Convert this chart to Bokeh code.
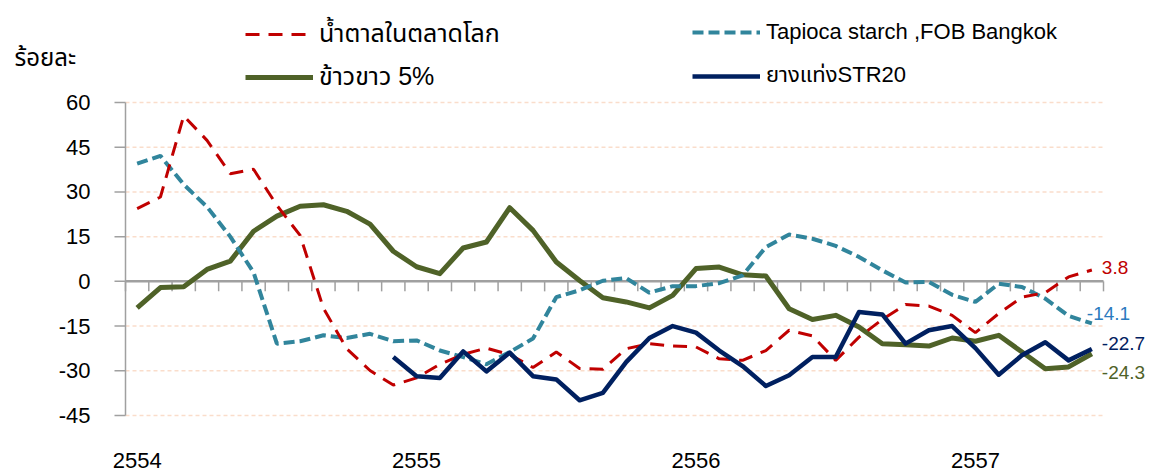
from bokeh.plotting import figure
from bokeh.models import (ColumnDataSource, Range1d, Legend, LegendItem, LabelSet, Label)
from bokeh.core.properties import value
from bokeh.embed import file_html
from bokeh.resources import INLINE

# ---------------- data ----------------
years = ["2554", "2555", "2556", "2557"]
months_per_year = 12
n_months = 42
nan = float("nan")

series_names = ["น้ำตาลในตลาดโลก", "Tapioca starch ,FOB Bangkok", "ข้าวขาว 5%", "ยางแท่งSTR20"]
y_unit = "ร้อยละ"
y_ticks = [-45, -30, -15, 0, 15, 30, 45, 60]

sugar = [24.4, 28.3, 55.5, 47.3, 36.1, 37.6, 25.5, 15.4, -9.0, -22.6,
         -29.9, -34.8, -32.4, -27.8, -24.5, -22.4, -24.6, -28.9, -23.7, -29.2,
         -29.5, -22.6, -20.9, -21.7, -22.0, -26.0, -26.5, -23.2, -16.4, -18.3,
         -26.5, -18.7, -12.8, -7.8, -8.3, -11.4, -17.2, -10.8, -5.3, -3.8,
         1.5, 3.8]
tapioca = [39.5, 42.1, 32.5, 25.0, 15.0, 3.0, -20.9, -20.1, -18.1, -19.0,
           -17.6, -20.1, -19.8, -23.2, -25.4, -27.8, -23.7, -19.2, -5.3, -3.0,
           0.2, 1.1, -3.8, -1.6, -1.6, -0.6, 2.0, 11.5, 15.7, 14.3,
           11.9, 8.2, 3.7, -0.4, -0.2, -4.5, -6.9, -0.8, -1.9, -5.8,
           -11.6, -14.1]
rice = [-8.9, -2.1, -1.8, 4.0, 6.8, 16.8, 21.9, 25.2, 25.7, 23.5,
        19.2, 10.1, 4.9, 2.6, 11.2, 13.2, 24.7, 17.1, 6.5, 0.3,
        -5.5, -6.9, -8.9, -4.7, 4.3, 4.8, 2.2, 1.8, -9.2, -12.8,
        -11.4, -15.3, -20.9, -21.3, -21.7, -19.0, -20.1, -18.1, -23.7, -29.3,
        -28.7, -24.3]
rubber = [nan] * 11 + [-25.4, -31.8, -32.4, -23.5, -30.2, -23.9, -31.8, -32.9, -39.9,
                       -37.4, -27.1, -19.0, -15.0, -17.2, -23.2, -28.4, -35.1, -31.5, -25.4,
                       -25.4, -10.3, -11.1, -20.9, -16.4, -15.0, -22.4, -31.3, -24.8, -20.4,
                       -26.5, -22.7]

# ---------------- layout / styles ----------------
W, H = 1153, 472
PLOT_L, PLOT_R, PLOT_T, PLOT_B = 125, 1103, 102, 415   # pixel box of the axes
RED, TEAL, GREEN, NAVY = "#C00000", "#31859C", "#4F6228", "#002060"
GREY = "#A0A0A0"
FONT = "Liberation Sans"
LEG_FONT = "Liberation Sans, Arial, Noto Sans Thai, Loma, Garuda, sans-serif"

y_min, y_max = min(y_ticks), max(y_ticks)
px_x = (PLOT_R - PLOT_L) / n_months
px_y = (PLOT_B - PLOT_T) / (y_max - y_min)

x = [i + 0.5 for i in range(n_months)]
src = ColumnDataSource(dict(x=x, sugar=sugar, tapioca=tapioca, rice=rice, rubber=rubber))

p = figure(width=W, height=H, output_backend="svg", toolbar_location=None,
           x_range=Range1d(-PLOT_L / px_x, (W - PLOT_L) / px_x),
           y_range=Range1d(y_min - (H - PLOT_B) / px_y, y_max + PLOT_T / px_y),
           min_border=0, x_axis_type=None, y_axis_type=None)
p.outline_line_color = None
p.background_fill_color = "white"
p.border_fill_color = "white"
p.grid.visible = False

# gridlines (non-zero ticks)
grid_vals = [t for t in y_ticks if t != 0]
p.segment(x0=[0] * len(grid_vals), x1=[n_months] * len(grid_vals), y0=grid_vals, y1=grid_vals,
          line_color="#FADDCB", line_width=1.5, line_dash="4 3")

# y axis line + ticks
p.segment(x0=[0], x1=[0], y0=[y_min], y1=[y_max], line_color=GREY, line_width=1.5)
p.segment(x0=[-11 / px_x] * len(y_ticks), x1=[0] * len(y_ticks), y0=y_ticks, y1=y_ticks,
          line_color=GREY, line_width=1.5)

# zero axis + month ticks
p.segment(x0=[0], x1=[n_months], y0=[0], y1=[0], line_color=GREY, line_width=2.5)
month_edges = list(range(n_months + 1))
p.segment(x0=month_edges, x1=month_edges, y0=[0] * len(month_edges),
          y1=[-10 / px_y] * len(month_edges), line_color=GREY, line_width=1.5)

# y tick labels
tsrc = ColumnDataSource(dict(x=[0] * len(y_ticks), y=y_ticks, text=[str(t) for t in y_ticks]))
p.add_layout(LabelSet(x="x", y="y", text="text", source=tsrc, x_offset=-35,
                      text_font=value(FONT), text_font_size=value("22px"), text_color="black",
                      text_align="right", text_baseline="middle"))

# lines
r_rice = p.line("x", "rice", source=src, line_color=GREEN, line_width=5, line_join="round")
r_tap = p.line("x", "tapioca", source=src, line_color=TEAL, line_width=4, line_dash="11 5")
r_sugar = p.line("x", "sugar", source=src, line_color=RED, line_width=3, line_dash="14 9")
r_rub = p.line("x", "rubber", source=src, line_color=NAVY, line_width=4.5, line_join="round")

# legends
def make_legend(items, loc, size, spacing):
    return Legend(items=items, location=loc, orientation="vertical",
                  glyph_width=68, glyph_height=26, label_height=26, spacing=spacing,
                  label_standoff=6, padding=0, margin=0,
                  border_line_alpha=0, background_fill_alpha=0,
                  label_text_font=LEG_FONT, label_text_font_size=size,
                  label_text_color="black")

leg1 = make_legend([LegendItem(label=series_names[0], renderers=[r_sugar]),
                    LegendItem(label=series_names[2], renderers=[r_rice])],
                   (245, H - 96), "25px", 5)
leg2 = make_legend([LegendItem(label=series_names[1], renderers=[r_tap]),
                    LegendItem(label=series_names[3], renderers=[r_rub])],
                   (692, H - 92), "22px", 14)
p.add_layout(leg1)
p.add_layout(leg2)

# unit label
p.add_layout(Label(x=0, y=y_max, x_offset=-111, y_offset=45, text=y_unit,
                   text_font=LEG_FONT, text_font_size="24px", text_color="black",
                   text_baseline="middle", text_align="left"))

# year labels
ysrc = ColumnDataSource(dict(x=[k * months_per_year + 0.5 for k in range(len(years))],
                             y=[y_min] * len(years), text=years))
p.add_layout(LabelSet(x="x", y="y", text="text", source=ysrc, y_offset=-52,
                      text_font=value(FONT), text_font_size=value("22px"), text_color="black",
                      text_align="center", text_baseline="alphabetic"))

# end value labels
last_vals = [sugar[-1], tapioca[-1], rubber[-1], rice[-1]]
esrc = ColumnDataSource(dict(
    x=[n_months - 0.5] * 4, y=last_vals,
    text=["%.1f" % v for v in last_vals],
    color=[RED, "#2B7BBE", NAVY, GREEN],
    xo=[10, -5, 10, 10], yo=[3, 10, 6, -19]))
p.add_layout(LabelSet(x="x", y="y", text="text", source=esrc, x_offset="xo", y_offset="yo",
                      text_color="color", text_font=value(FONT), text_font_size=value("19px"),
                      text_align="left", text_baseline="middle"))

open("out.html", "w").write(file_html(p, INLINE))
